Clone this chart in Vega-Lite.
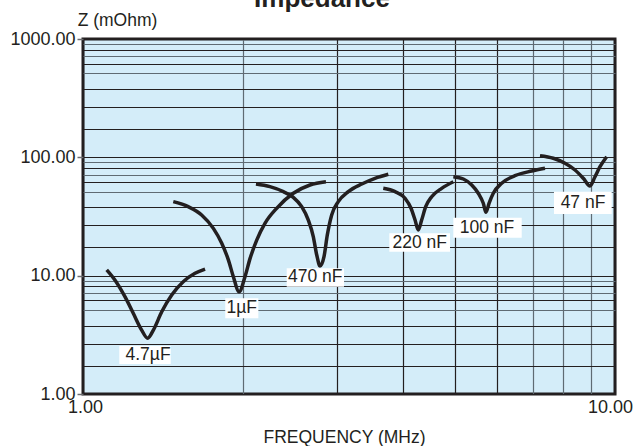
{
  "$schema": "https://vega.github.io/schema/vega-lite/v6.json",
  "width": 532,
  "height": 355,
  "autosize": {"type": "none"},
  "padding": {"left": 83, "top": 39, "right": 20, "bottom": 52},
  "background": "white",
  "title": {
    "text": "Impedance",
    "fontSize": 26,
    "fontWeight": "bold",
    "font": "Liberation Sans",
    "color": "#231f20",
    "frame": "group",
    "anchor": "middle",
    "dx": -27,
    "dy": 22,
    "offset": 0,
    "baseline": "alphabetic"
  },
  "config": {
    "view": {"stroke": "#231f20", "strokeWidth": 3, "fill": "#d4edf9"},
    "font": "Liberation Sans"
  },
  "datasets": {
    "curves": [
      {"cap": "4.7µF", "freq": 1.108, "z": 11.2},
      {"cap": "4.7µF", "freq": 1.148, "z": 9.19},
      {"cap": "4.7µF", "freq": 1.199, "z": 6.64},
      {"cap": "4.7µF", "freq": 1.243, "z": 4.81},
      {"cap": "4.7µF", "freq": 1.289, "z": 3.47},
      {"cap": "4.7µF", "freq": 1.323, "z": 2.96},
      {"cap": "4.7µF", "freq": 1.356, "z": 3.47},
      {"cap": "4.7µF", "freq": 1.406, "z": 4.95},
      {"cap": "4.7µF", "freq": 1.468, "z": 6.87},
      {"cap": "4.7µF", "freq": 1.543, "z": 8.89},
      {"cap": "4.7µF", "freq": 1.624, "z": 10.47},
      {"cap": "4.7µF", "freq": 1.696, "z": 11.38},
      {"cap": "1µF", "freq": 1.478, "z": 42.2},
      {"cap": "1µF", "freq": 1.577, "z": 38.3},
      {"cap": "1µF", "freq": 1.671, "z": 32.6},
      {"cap": "1µF", "freq": 1.758, "z": 25.1},
      {"cap": "1µF", "freq": 1.823, "z": 18.8},
      {"cap": "1µF", "freq": 1.876, "z": 13.6},
      {"cap": "1µF", "freq": 1.917, "z": 9.8},
      {"cap": "1µF", "freq": 1.965, "z": 7.31},
      {"cap": "1µF", "freq": 2.016, "z": 9.8},
      {"cap": "1µF", "freq": 2.061, "z": 14.0},
      {"cap": "1µF", "freq": 2.121, "z": 20.0},
      {"cap": "1µF", "freq": 2.198, "z": 27.7},
      {"cap": "1µF", "freq": 2.312, "z": 37.1},
      {"cap": "1µF", "freq": 2.485, "z": 49.7},
      {"cap": "1µF", "freq": 2.671, "z": 58.4},
      {"cap": "1µF", "freq": 2.862, "z": 62.2},
      {"cap": "470 nF", "freq": 2.114, "z": 59.5},
      {"cap": "470 nF", "freq": 2.246, "z": 56.5},
      {"cap": "470 nF", "freq": 2.380, "z": 51.3},
      {"cap": "470 nF", "freq": 2.485, "z": 45.9},
      {"cap": "470 nF", "freq": 2.577, "z": 38.3},
      {"cap": "470 nF", "freq": 2.652, "z": 29.5},
      {"cap": "470 nF", "freq": 2.710, "z": 21.3},
      {"cap": "470 nF", "freq": 2.750, "z": 14.95},
      {"cap": "470 nF", "freq": 2.790, "z": 12.07},
      {"cap": "470 nF", "freq": 2.838, "z": 14.5},
      {"cap": "470 nF", "freq": 2.879, "z": 22.1},
      {"cap": "470 nF", "freq": 2.934, "z": 32.6},
      {"cap": "470 nF", "freq": 3.019, "z": 42.2},
      {"cap": "470 nF", "freq": 3.153, "z": 51.3},
      {"cap": "470 nF", "freq": 3.342, "z": 59.5},
      {"cap": "470 nF", "freq": 3.539, "z": 66.5},
      {"cap": "470 nF", "freq": 3.749, "z": 71.9},
      {"cap": "220 nF", "freq": 3.668, "z": 54.7},
      {"cap": "220 nF", "freq": 3.860, "z": 51.3},
      {"cap": "220 nF", "freq": 4.030, "z": 45.1},
      {"cap": "220 nF", "freq": 4.136, "z": 37.1},
      {"cap": "220 nF", "freq": 4.209, "z": 29.5},
      {"cap": "220 nF", "freq": 4.268, "z": 24.3},
      {"cap": "220 nF", "freq": 4.331, "z": 29.5},
      {"cap": "220 nF", "freq": 4.407, "z": 38.3},
      {"cap": "220 nF", "freq": 4.523, "z": 46.5},
      {"cap": "220 nF", "freq": 4.723, "z": 54.7},
      {"cap": "220 nF", "freq": 4.967, "z": 62.2},
      {"cap": "100 nF", "freq": 4.967, "z": 68.6},
      {"cap": "100 nF", "freq": 5.187, "z": 65.6},
      {"cap": "100 nF", "freq": 5.379, "z": 58.4},
      {"cap": "100 nF", "freq": 5.534, "z": 49.7},
      {"cap": "100 nF", "freq": 5.655, "z": 40.9},
      {"cap": "100 nF", "freq": 5.722, "z": 34.3},
      {"cap": "100 nF", "freq": 5.797, "z": 40.9},
      {"cap": "100 nF", "freq": 5.905, "z": 49.7},
      {"cap": "100 nF", "freq": 6.124, "z": 60.4},
      {"cap": "100 nF", "freq": 6.486, "z": 70.0},
      {"cap": "100 nF", "freq": 6.973, "z": 76.6},
      {"cap": "100 nF", "freq": 7.386, "z": 80.8},
      {"cap": "47 nF", "freq": 7.228, "z": 103.2},
      {"cap": "47 nF", "freq": 7.656, "z": 98.2},
      {"cap": "47 nF", "freq": 8.054, "z": 89.1},
      {"cap": "47 nF", "freq": 8.411, "z": 78.2},
      {"cap": "47 nF", "freq": 8.717, "z": 66.5},
      {"cap": "47 nF", "freq": 8.974, "z": 57.3},
      {"cap": "47 nF", "freq": 9.171, "z": 68.6},
      {"cap": "47 nF", "freq": 9.371, "z": 83.3},
      {"cap": "47 nF", "freq": 9.647, "z": 101.2}
    ],
    "labels": [
      {"text": "4.7µF", "freq": 1.325, "z": 2.14, "f_lo": 1.170, "f_hi": 1.462, "z_lo": 1.79, "z_hi": 2.55},
      {"text": "1µF", "freq": 1.988, "z": 5.30, "f_lo": 1.851, "f_hi": 2.136, "z_lo": 4.36, "z_hi": 6.44},
      {"text": "470 nF", "freq": 2.733, "z": 9.65, "f_lo": 2.415, "f_hi": 3.095, "z_lo": 8.07, "z_hi": 11.54},
      {"text": "220 nF", "freq": 4.296, "z": 19.06, "f_lo": 3.765, "f_hi": 4.896, "z_lo": 15.94, "z_hi": 22.8},
      {"text": "100 nF", "freq": 5.746, "z": 25.4, "f_lo": 4.967, "f_hi": 6.678, "z_lo": 20.9, "z_hi": 30.9},
      {"text": "47 nF", "freq": 8.707, "z": 41.3, "f_lo": 7.679, "f_hi": 9.858, "z_lo": 33.2, "z_hi": 51.2}
    ]
  },
  "layer": [
    {
      "data": {"name": "curves"},
      "mark": {"type": "line", "interpolate": "monotone", "stroke": "#231f20", "strokeWidth": 3.5, "strokeCap": "butt"},
      "encoding": {
        "x": {
          "field": "freq", "type": "quantitative",
          "scale": {"type": "log", "domain": [1, 10], "nice": false},
          "axis": {
            "title": "FREQUENCY (MHz)",
            "titleFontSize": 17.5, "titleFontWeight": "normal", "titleColor": "#231f20",
            "titleX": 261, "titleY": 48, "titleAlign": "center", "titleBaseline": "alphabetic",
            "values": [1, 2, 3, 4, 5, 6, 7, 8, 9, 10],
            "labelExpr": "datum.value == 1 || datum.value == 10 ? format(datum.value, '.2f') : ''",
            "labelFontSize": 18, "labelColor": "#231f20", "labelPadding": 4, "labelFlush": false,
            "labelOffset": {"condition": {"test": "datum.value == 10", "value": -5}, "value": 2},
            "ticks": false, "domain": false,
            "grid": true, "gridWidth": 1.2,
            "gridColor": {"condition": {"test": "datum.value == 2 || (datum.value >= 7 && datum.value < 10)", "value": "#5f6b73"}, "value": "#231f20"}
          }
        },
        "y": {
          "field": "z", "type": "quantitative",
          "scale": {"type": "log", "domain": [1, 1000], "nice": false},
          "axis": {
            "title": "Z (mOhm)",
            "titleAngle": 0, "titleFontSize": 17.5, "titleFontWeight": "normal", "titleColor": "#231f20",
            "titleX": 34, "titleY": -14, "titleAlign": "center", "titleBaseline": "alphabetic",
            "values": [1, 1.74, 2.67, 3.79, 5.13, 6.17, 7.15, 8.13, 9.08, 10, 17.4, 26.7, 37.9, 51.3, 61.7, 71.5, 81.3, 90.8, 100, 174, 267, 379, 513, 617, 715, 813, 908, 1000],
            "labelExpr": "datum.value == 1 || datum.value == 10 || datum.value == 100 || datum.value == 1000 ? format(datum.value, '.2f') : ''",
            "labelFontSize": 18, "labelColor": "#231f20", "labelPadding": 2,
            "ticks": true, "tickSize": 6, "tickWidth": 1.5, "tickColor": "#6d6e71",
            "tickOpacity": {"condition": {"test": "datum.value == 1 || datum.value == 10 || datum.value == 100 || datum.value == 1000", "value": 1}, "value": 0},
            "domain": false,
            "grid": true, "gridWidth": 1.2,
            "gridColor": {"condition": {"test": "indexof([9.08, 90.8, 908, 7.15, 71.5, 715, 5.13, 51.3, 513], datum.value) >= 0", "value": "#5f6b73"}, "value": "#231f20"}
          }
        },
        "detail": {"field": "cap", "type": "nominal"}
      }
    },
    {
      "data": {"name": "labels"},
      "mark": {"type": "rect", "fill": "white", "stroke": null},
      "encoding": {
        "x": {"field": "f_lo", "type": "quantitative"},
        "x2": {"field": "f_hi"},
        "y": {"field": "z_lo", "type": "quantitative"},
        "y2": {"field": "z_hi"}
      }
    },
    {
      "data": {"name": "labels"},
      "mark": {"type": "text", "fontSize": 17.5, "color": "#231f20", "align": "center", "baseline": "middle"},
      "encoding": {
        "x": {"field": "freq", "type": "quantitative"},
        "y": {"field": "z", "type": "quantitative"},
        "text": {"field": "text", "type": "nominal"}
      }
    }
  ]
}
